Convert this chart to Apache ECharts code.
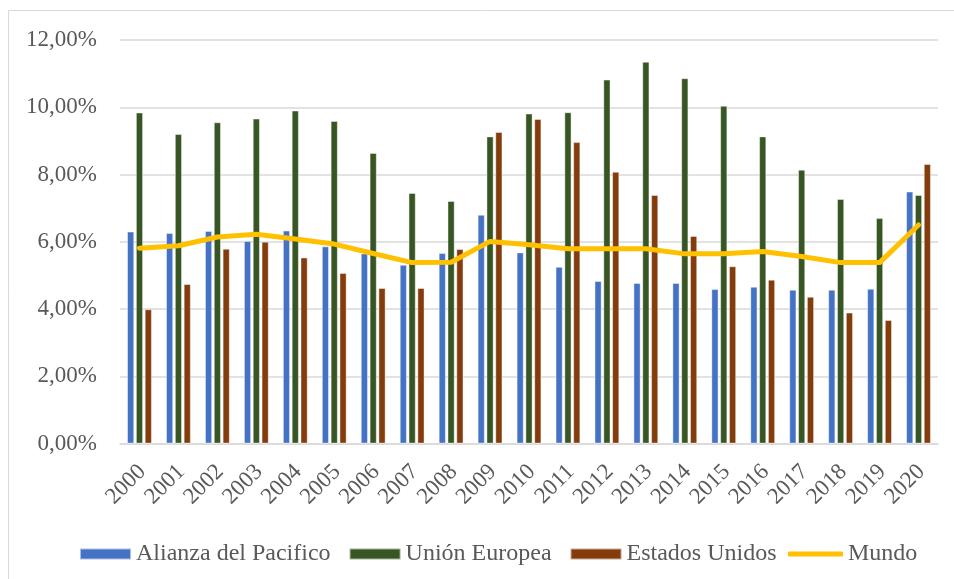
<!DOCTYPE html>
<html>
<head>
<meta charset="utf-8">
<script src="https://cdn.jsdelivr.net/npm/echarts@6/dist/echarts.min.js"></script>
<style>html,body{margin:0;padding:0;background:#fff;}#c{width:954px;height:579px;}</style>
</head>
<body>
<div id="c"></div>
<script>
const years = ['2000','2001','2002','2003','2004','2005','2006','2007','2008','2009','2010','2011','2012','2013','2014','2015','2016','2017','2018','2019','2020'];
const alianza = [6.30, 6.26, 6.32, 6.02, 6.33, 5.86, 5.65, 5.31, 5.66, 6.80, 5.68, 5.25, 4.83, 4.77, 4.77, 4.59, 4.66, 4.57, 4.57, 4.60, 7.49];
const union = [9.84, 9.20, 9.55, 9.66, 9.90, 9.59, 8.64, 7.45, 7.21, 9.13, 9.81, 9.85, 10.82, 11.35, 10.86, 10.04, 9.13, 8.14, 7.27, 6.70, 7.39];
const estados = [3.99, 4.74, 5.79, 6.00, 5.53, 5.07, 4.62, 4.62, 5.78, 9.26, 9.65, 8.96, 8.08, 7.39, 6.17, 5.27, 4.87, 4.36, 3.89, 3.67, 8.31];
const mundo = [5.81, 5.88, 6.14, 6.22, 6.08, 5.93, 5.65, 5.38, 5.39, 6.01, 5.91, 5.79, 5.79, 5.79, 5.64, 5.64, 5.71, 5.56, 5.38, 5.38, 6.50];
const yTicks = [0, 2, 4, 6, 8, 10, 12];

const font = 'Liberation Serif';
const chart = echarts.init(document.getElementById('c'), null, {renderer: 'canvas'});
const barBorder = {borderColor: 'rgba(255,255,255,0.55)', borderWidth: 0.8};
const legendText = {fontFamily: 'serif', fontSize: 24, fontWeight: 'normal', fontStyle: 'normal', color: '#595959'};
chart.setOption({
  animation: false,
  backgroundColor: '#fff',
  textStyle: {fontFamily: font},
  graphic: [{
    type: 'rect', shape: {x: 8.5, y: 10.5, width: 1000, height: 1000},
    style: {fill: 'none', stroke: '#d9d9d9', lineWidth: 1}, silent: true, z: -1
  }],
  grid: {left: 120, right: 16, top: 40, bottom: 135.5, containLabel: false},
  legend: [{
    left: 74, top: 537,
    itemWidth: 51, itemHeight: 11, itemGap: 18,
    textStyle: legendText,
    data: [
      {name: 'Alianza del Pacifico', icon: 'rect'},
      {name: 'Unión Europea', icon: 'rect'},
      {name: 'Estados Unidos', icon: 'rect'}
    ]
  }, {
    left: 783, top: 537,
    itemWidth: 55, itemHeight: 5,
    textStyle: legendText,
    data: [{name: 'Mundo', icon: 'roundRect'}]
  }],
  xAxis: {
    type: 'category', data: years,
    axisLine: {lineStyle: {color: '#d9d9d9', width: 1.5}},
    axisTick: {show: false},
    axisLabel: {
      interval: 0, rotate: 45, margin: 12, fontFamily: font, fontSize: 23, color: '#595959',
      formatter: '{a|{value}}',
      rich: {a: {fontFamily: font, fontSize: 23, color: '#595959', padding: [22, 7, 0, 0]}}
    }
  },
  yAxis: {
    type: 'value', min: yTicks[0], max: yTicks[yTicks.length - 1], interval: 2,
    axisLine: {show: false}, axisTick: {show: false},
    splitLine: {lineStyle: {color: '#d9d9d9', width: 1.5}},
    axisLabel: {
      margin: 23, fontFamily: font, fontSize: 23, color: '#595959',
      formatter: v => v.toFixed(2).replace('.', ',') + '%'
    }
  },
  series: [
    {name: 'Alianza del Pacifico', type: 'bar', data: alianza, barWidth: 7, barGap: '26%',
     itemStyle: Object.assign({color: '#4472C4'}, barBorder)},
    {name: 'Unión Europea', type: 'bar', data: union, barWidth: 7, barGap: '26%',
     itemStyle: Object.assign({color: '#375623'}, barBorder)},
    {name: 'Estados Unidos', type: 'bar', data: estados, barWidth: 7, barGap: '26%',
     itemStyle: Object.assign({color: '#843C0C'}, barBorder)},
    {name: 'Mundo', type: 'line', data: mundo, symbol: 'none', showSymbol: false,
     lineStyle: {color: '#FFC000', width: 5, cap: 'round', join: 'round'},
     itemStyle: {color: '#FFC000'}, z: 5}
  ]
});
</script>
</body>
</html>
